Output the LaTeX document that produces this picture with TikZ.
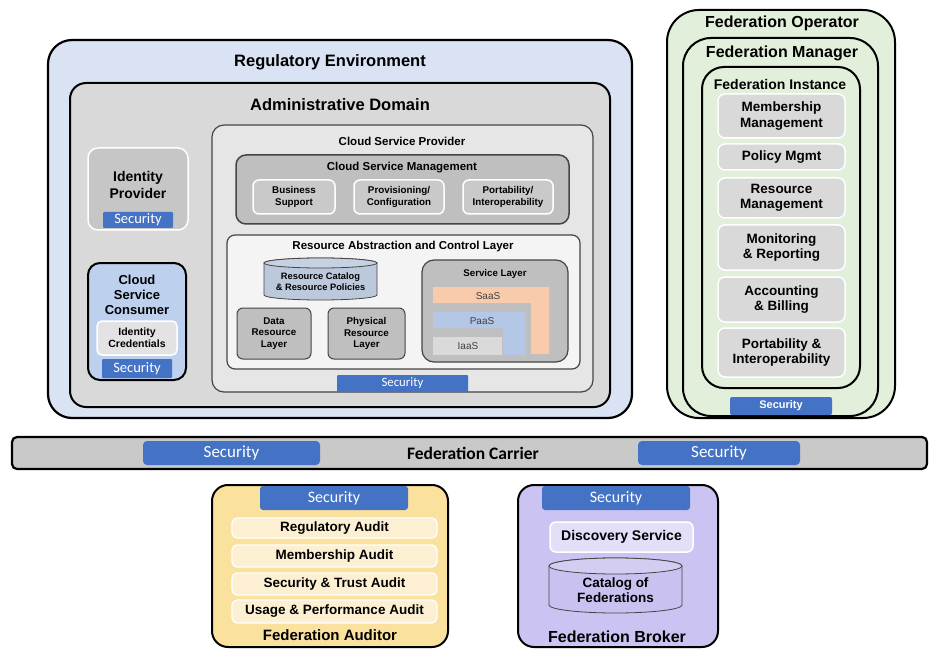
\documentclass[tikz,border=0pt]{standalone}
\usepackage{fontspec}
\setmainfont{Liberation Sans}
\newfontfamily\secfont{Carlito}
\usetikzlibrary{fit}
\newcommand\myfb[2]{\bfseries\fontsize{#1}{#2}\selectfont}
\newcommand\mysec[1]{\secfont\fontsize{#1}{#1}\selectfont}
\definecolor{regbg}{HTML}{DAE3F3}
\definecolor{admbg}{HTML}{D9D9D9}
\definecolor{cspbg}{HTML}{E6E6E6}
\definecolor{csmbg}{HTML}{BFBFBF}
\definecolor{subbg}{HTML}{C9C9C9}
\definecolor{raclbg}{HTML}{F4F4F4}
\definecolor{secblue}{HTML}{4472C4}
\definecolor{idpbg}{HTML}{C6C6C6}
\definecolor{consbg}{HTML}{BDD0EE}
\definecolor{credbg}{HTML}{E3E3E3}
\definecolor{cylbg}{HTML}{BCC9DC}
\definecolor{saas}{HTML}{F8CBAD}
\definecolor{paas}{HTML}{B4C7E7}
\definecolor{iaas}{HTML}{DADADA}
\definecolor{fedgreen}{HTML}{E2EFDA}
\definecolor{fedbox}{HTML}{D9D9D9}
\definecolor{carrierbg}{HTML}{C9C9C9}
\definecolor{audbg}{HTML}{FAE29E}
\definecolor{auditem}{HTML}{FDF0D2}
\definecolor{brokbg}{HTML}{CBC3F2}
\definecolor{discbg}{HTML}{E3DFF9}
\definecolor{catbg}{HTML}{C9C1EF}
\definecolor{darkline}{HTML}{454545}
\begin{document}
\begin{tikzpicture}[x=1pt,y=-1pt,
  every node/.style={inner sep=0pt,outer sep=0pt,align=center},
  bigbox/.style={draw=black,line width=2.2pt,rounded corners=#1},
  bigbox/.default=16pt,
  midbox/.style={draw=darkline,line width=1.2pt,rounded corners=#1},
  midbox/.default=10pt,
  whitebox/.style={draw=white,line width=1.5pt,rounded corners=#1},
  whitebox/.default=6pt,
  secbar/.style={fill=secblue,rounded corners=3pt},
  sectxt/.style={text=white,font=\mysec{#1}},
  ttl/.style={font=\myfb{#1}{#1}},
  lbl/.style={font=\myfb{#1}{1.15\dimexpr#1pt\relax}}
]
\useasboundingbox (0,0) rectangle (930,650);

% ---------------- Regulatory environment ----------------
\node[bigbox=24pt,fill=regbg,fit={(48,40)(632,418)}] (reg) {};
\node[ttl=16.5] (regt) at (330,62) {Regulatory Environment};

\node[bigbox=16pt,line width=2pt,fill=admbg,fit={(70,83)(610,407)}] (adm) {};
\node[ttl=16.5] (admt) at (340,105) {Administrative Domain};

% Identity provider
\node[whitebox=10pt,fill=idpbg,fit={(88,148)(188,230)}] (idp) {};
\node[lbl=14] (idpt) at (138,185) {Identity\\Provider};
\node[secbar,rounded corners=1pt,fit={(103,212)(173,228)}] (idpsec) {};
\node[sectxt=14.5] (idpsect) at (idpsec) {Security};

% Cloud service consumer
\node[bigbox=12pt,line width=2pt,fill=consbg,fit={(88,263)(186,380)}] (csc) {};
\node[lbl=13] (csct) at (137,295) {Cloud\\Service\\Consumer};
\node[whitebox=5pt,fill=credbg,fit={(97,321)(177,355)}] (cred) {};
\node[lbl=10.5] (credt) at (cred) {Identity\\Credentials};
\node[secbar,rounded corners=1pt,fit={(102,359)(172,378)}] (cscsec) {};
\node[sectxt=14.5] (cscsect) at (cscsec) {Security};

% Cloud service provider
\node[midbox=12pt,fill=cspbg,fit={(212,125)(593,392)}] (csp) {};
\node[ttl=11.5] (cspt) at (402,141) {Cloud Service Provider};

\node[midbox=10pt,line width=1.5pt,fill=csmbg,fit={(236,155)(569,224)}] (csm) {};
\node[ttl=11.5] (csmt) at (402,168) {Cloud Service Management};
\node[whitebox,fill=subbg,fit={(253,180)(335,214)}] (bs) {};
\node[lbl=9.8] (bst) at (bs) {Business\\Support};
\node[whitebox,fill=subbg,fit={(354,180)(444,214)}] (prov) {};
\node[lbl=9.8] (provt) at (prov) {Provisioning/\\Configuration};
\node[whitebox,fill=subbg,fit={(463,180)(553,214)}] (port) {};
\node[lbl=9.8] (portt) at (port) {Portability/\\Interoperability};

\node[midbox=8pt,fill=raclbg,fit={(227,235)(580,369)}] (racl) {};
\node[ttl=11.5] (raclt) at (403,247) {Resource Abstraction and Control Layer};

% resource catalog cylinder
\draw[fill=cylbg,draw=darkline,line width=0.8pt]
  (264,263) -- (264,295) arc[start angle=180,end angle=0,x radius=56.5,y radius=5]
  -- (377,263) arc[start angle=0,end angle=-180,x radius=56.5,y radius=5] -- cycle;
\draw[fill=cylbg!85!white,draw=darkline,line width=0.8pt] (320.5,263) ellipse[x radius=56.5,y radius=5];
\node[lbl=9.3] (cat) at (320.5,282) {Resource Catalog\\\& Resource Policies};

\node[midbox=6pt,line width=1pt,fill=subbg!95!black,fit={(237,308)(311,359)}] (drl) {};
\node[lbl=9.8] (drlt) at (drl) {Data\\Resource\\Layer};
\node[midbox=6pt,line width=1pt,fill=subbg!95!black,fit={(328,308)(405,359)}] (prl) {};
\node[lbl=9.8] (prlt) at (prl) {Physical\\Resource\\Layer};

% service layer
\node[midbox=12pt,fill=subbg!95!black,fit={(422,260)(568,362)}] (sl) {};
\node[ttl=9.7] (slt) at (495,274) {Service Layer};
\fill[saas] (433,287) -- (549,287) -- (549,354) -- (531,354) -- (531,303) -- (433,303) -- cycle;
\fill[paas] (433,312) -- (525,312) -- (525,355) -- (503,355) -- (503,328) -- (433,328) -- cycle;
\fill[iaas] (433,337) -- (502,337) -- (502,355) -- (433,355) -- cycle;
\node[font=\fontsize{10}{10}\selectfont,text=black!75] (saast) at (488,296) {SaaS};
\node[font=\fontsize{10}{10}\selectfont,text=black!75] (paast) at (482,321) {PaaS};
\node[font=\fontsize{10}{10}\selectfont,text=black!75] (iaast) at (468,346) {IaaS};

\node[secbar,rounded corners=1pt,fit={(337,375)(468,392)}] (cspsec) {};
\node[sectxt=12.8] (cspsect) at (cspsec) {Security};

% ---------------- Federation operator ----------------
\node[bigbox=32pt,line width=2pt,fill=fedgreen,fit={(667,10)(895,418)}] (fop) {};
\node[ttl=16] (fopt) at (782,23) {Federation Operator};
\node[bigbox=28pt,line width=2pt,fill=fedgreen,fit={(683,38)(878,416)}] (fman) {};
\node[ttl=16] (fmant) at (782,53) {Federation Manager};
\node[bigbox=22pt,line width=2pt,fill=fedgreen,fit={(702,67)(860,388)}] (finst) {};
\node[ttl=14] (finstt) at (780,84) {Federation Instance};
\node[whitebox=7pt,fill=fedbox,fit={(718,94)(845,138)}] (mm) {};
\node[lbl=13.5] (mmt) at (mm) {Membership\\Management};
\node[whitebox=7pt,fill=fedbox,fit={(718,144)(845,170)}] (pm) {};
\node[lbl=13.5] (pmt) at (pm) {Policy Mgmt};
\node[whitebox=7pt,fill=fedbox,fit={(718,178)(845,218)}] (rm) {};
\node[lbl=13.5] (rmt) at (rm) {Resource\\Management};
\node[whitebox=7pt,fill=fedbox,fit={(718,225)(845,270)}] (mr) {};
\node[lbl=13.5] (mrt) at (mr) {Monitoring\\\& Reporting};
\node[whitebox=7pt,fill=fedbox,fit={(718,277)(845,322)}] (ab) {};
\node[lbl=13.5] (abt) at (ab) {Accounting\\\& Billing};
\node[whitebox=7pt,fill=fedbox,fit={(718,328)(845,377)}] (pi) {};
\node[lbl=13.5] (pit) at (pi) {Portability \&\\Interoperability};
\node[secbar,rounded corners=2pt,fit={(730,397)(832,415)}] (fsec) {};
\node[text=white,font=\myfb{11}{11}] (fsect) at (fsec) {Security};

% ---------------- Federation carrier ----------------
\node[bigbox=5pt,fill=carrierbg,fit={(12,437)(927,469)}] (carr) {};
\node[font=\secfont\bfseries\fontsize{17.5}{17.5}\selectfont] (carrt) at (473,453) {Federation Carrier};
\node[secbar,rounded corners=4pt,fit={(143,441)(320,465)}] (csec1) {};
\node[sectxt=17] (csec1t) at (csec1) {Security};
\node[secbar,rounded corners=4pt,fit={(638,441)(800,465)}] (csec2) {};
\node[sectxt=17] (csec2t) at (csec2) {Security};

% ---------------- Federation auditor ----------------
\node[bigbox=16pt,line width=2pt,fill=audbg,fit={(212,485)(448,647)}] (aud) {};
\node[secbar,rounded corners=3pt,fit={(260,486)(408,510)}] (audsec) {};
\node[sectxt=16] (audsect) at (audsec) {Security};
\node[whitebox=5pt,line width=1.2pt,fill=auditem,fit={(232,518)(437,538)}] (ra) {};
\node[lbl=13.5] (rat) at (ra) {Regulatory Audit};
\node[whitebox=5pt,line width=1.2pt,fill=auditem,fit={(232,545)(437,567)}] (ma) {};
\node[lbl=13.5] (mat) at (ma) {Membership Audit};
\node[whitebox=5pt,line width=1.2pt,fill=auditem,fit={(232,573)(437,595)}] (sta) {};
\node[lbl=13.5] (stat) at (sta) {Security \& Trust Audit};
\node[whitebox=5pt,line width=1.2pt,fill=auditem,fit={(232,600)(437,623)}] (upa) {};
\node[lbl=13.5] (upat) at (upa) {Usage \& Performance Audit};
\node[ttl=15] (audt) at (330,635) {Federation Auditor};

% ---------------- Federation broker ----------------
\node[bigbox=16pt,line width=2pt,fill=brokbg,fit={(518,485)(718,647)}] (brok) {};
\node[secbar,rounded corners=3pt,fit={(542,486)(690,510)}] (broksec) {};
\node[sectxt=16] (broksect) at (broksec) {Security};
\node[whitebox=6pt,fill=discbg,fit={(550,522)(693,552)}] (disc) {};
\node[lbl=14] (disct) at (disc) {Discovery Service};
\draw[fill=catbg,draw=darkline,line width=0.8pt]
  (549,566) -- (549,605) arc[start angle=180,end angle=0,x radius=66.5,y radius=8]
  -- (682,566) arc[start angle=0,end angle=-180,x radius=66.5,y radius=8] -- cycle;
\draw[fill=catbg!80!white,draw=darkline,line width=0.8pt] (615.5,566) ellipse[x radius=66.5,y radius=8];
\node[lbl=13.5] (catf) at (615.5,590) {Catalog of\\Federations};
\node[ttl=16] (brokt) at (617,637) {Federation Broker};
\end{tikzpicture}
\end{document}
